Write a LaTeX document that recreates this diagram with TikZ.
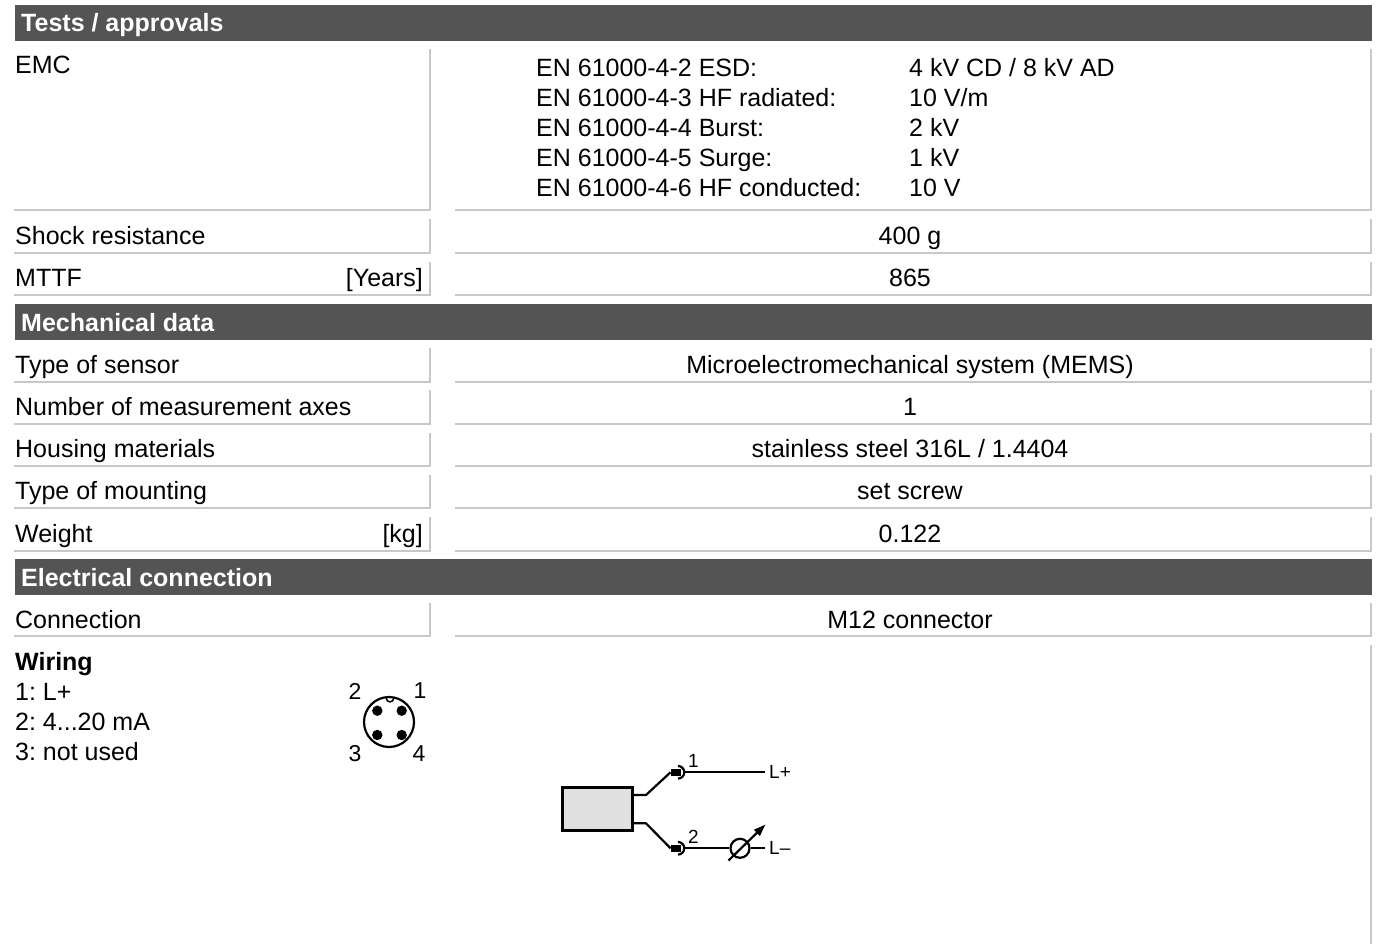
\documentclass[tikz,border=0pt]{standalone}
\usepackage{fontspec}
\setmainfont{Liberation Sans}
\usetikzlibrary{arrows.meta}
\definecolor{hdrgray}{HTML}{545454}
\definecolor{cellgray}{HTML}{C8C8C8}
\definecolor{boxgray}{HTML}{E0E0E0}
\begin{document}
\frenchspacing
\begin{tikzpicture}[x=1pt,y=-1pt,
  txt/.style={font=\fontsize{25}{30}\selectfont, inner sep=0pt, text=black},
  lbl/.style={txt, anchor=base west},
  val/.style={txt, anchor=base},
  unitlbl/.style={txt, anchor=base east},
  hdrbar/.style={fill=hdrgray, draw=none},
  hdrtxt/.style={inner sep=0pt, anchor=base west, text=white, font=\fontsize{25}{30}\selectfont\bfseries},
  cellline/.style={draw=cellgray, line width=2pt},
  wire/.style={line width=2.2pt, line join=round},
  small/.style={inner sep=0pt, font=\fontsize{19}{22}\selectfont},
  pinlbl/.style={inner sep=0pt, font=\fontsize{23}{26}\selectfont},
]
\useasboundingbox (0,0) rectangle (1376,944);

% ---------- header bars ----------
\fill[hdrbar] (15,5) rectangle (1372,41);
\node[hdrtxt] (h1) at (21,32) {Tests / approvals};
\fill[hdrbar] (15,304) rectangle (1372,340);
\node[hdrtxt] (h2) at (21,331) {Mechanical data};
\fill[hdrbar] (15,559) rectangle (1372,595);
\node[hdrtxt] (h3) at (21,586) {Electrical connection};

% ---------- cell borders ----------
\foreach \t/\b in {49/210, 219/252.5, 261.5/295, 348/381.5, 390.3/423.8, 432.6/466, 474.9/508, 517.2/550.7, 603/636}{
  \draw[cellline] (14,\b) -- (429.5,\b) -- (429.5,\t);
  \draw[cellline] (455,\b) -- (1370.7,\b) -- (1370.7,\t);
}
\draw[cellline] (1370.7,645) -- (1370.7,944);

% ---------- Tests / approvals ----------
\node[lbl] (emc) at (15,73.3) {EMC};
\node[lbl] (e1) at (536,76.7) {EN 61000-4-2 ESD:};
\node[lbl] (e2) at (536,106.7) {EN 61000-4-3 HF radiated:};
\node[lbl] (e3) at (536,136.7) {EN 61000-4-4 Burst:};
\node[lbl] (e4) at (536,166.7) {EN 61000-4-5 Surge:};
\node[lbl] (e5) at (536,196.7) {EN 61000-4-6 HF conducted:};
\node[lbl] (v1) at (909,76.7) {4 kV CD / 8 kV AD};
\node[lbl] (v2) at (909,106.7) {10 V/m};
\node[lbl] (v3) at (909,136.7) {2 kV};
\node[lbl] (v4) at (909,166.7) {1 kV};
\node[lbl] (v5) at (909,196.7) {10 V};

\node[lbl] (shock) at (15,244) {Shock resistance};
\node[val] (shockv) at (910,244) {400 g};
\node[lbl] (mttf) at (15,286.3) {MTTF};
\node[unitlbl] (mttfu) at (423,286.3) {[Years]};
\node[val] (mttfv) at (910,286.3) {865};

% ---------- Mechanical data ----------
\node[lbl] (sens) at (15,373) {Type of sensor};
\node[val] (sensv) at (910,373) {Microelectromechanical system (MEMS)};
\node[lbl] (axes) at (15,415.3) {Number of measurement axes};
\node[val] (axesv) at (910,415.3) {1};
\node[lbl] (hous) at (15,457.5) {Housing materials};
\node[val] (housv) at (910,457.5) {stainless steel 316L / 1.4404};
\node[lbl] (mount) at (15,499.8) {Type of mounting};
\node[val] (mountv) at (910,499.8) {set screw};
\node[lbl] (wgt) at (15,542) {Weight};
\node[unitlbl] (wgtu) at (423,542) {[kg]};
\node[val] (wgtv) at (910,542) {0.122};

% ---------- Electrical connection ----------
\node[lbl] (conn) at (15,628) {Connection};
\node[val] (connv) at (910,628) {M12 connector};

\node[lbl, font=\fontsize{25}{30}\selectfont\bfseries] (wir) at (15,670) {Wiring};
\node[lbl] (w1) at (15,700) {1: L+};
\node[lbl] (w2) at (15,730) {2: 4...20 mA};
\node[lbl] (w3) at (15,760) {3: not used};

% connector face
\coordinate (cc) at (389,722);
\draw[line width=2.2pt] (cc) circle[radius=25];
\fill (377.3,710.7) circle[radius=5.2];
\fill (401.7,710.7) circle[radius=5.2];
\fill (377.3,735) circle[radius=5.2];
\fill (401.7,735) circle[radius=5.2];
\draw[line width=1.5pt] (386,697.2) .. controls (386,703.5) and (394,703.5) .. (394,697.2);
\node[pinlbl] (p2) at (355,691) {2};
\node[pinlbl] (p1) at (420,691) {1};
\node[pinlbl] (p3) at (355,753.5) {3};
\node[pinlbl] (p4) at (419,753.5) {4};

% wiring schematic
\node[draw=black, fill=boxgray, line width=3pt, minimum width=70pt, minimum height=43.5pt, inner sep=0pt] (sensor) at (597.5,809.2) {};
\coordinate (u0) at (sensor.east |- 0,795);
\coordinate (u1) at (646,795);
\coordinate (u2) at (670.5,772.3);
\coordinate (d0) at (sensor.east |- 0,823.3);
\coordinate (d1) at (646,823.3);
\coordinate (d2) at (670.5,848.3);
\coordinate (uend) at (765,772.3);
\coordinate (dend) at (765,848.3);

\draw[wire] (u0) -- (u1) -- (u2);
\fill (670.5,769) rectangle (680.5,775.6);
\draw[line width=2.2pt] (678,766) arc[start angle=-90, end angle=90, radius=6.3];
\draw[wire] (684.3,772.3) -- (uend);
\node[small, anchor=west] (lp) at (769,772.3) {L+};
\node[small] (n1) at (693.5,761) {1};

\draw[wire] (d0) -- (d1) -- (d2);
\fill (670.5,845) rectangle (680.5,851.6);
\draw[line width=2.2pt] (678,842) arc[start angle=-90, end angle=90, radius=6.3];
\node[draw=black, line width=2.2pt, circle, minimum size=19pt, inner sep=0pt] (meter) at (740,848.3) {};
\draw[wire] (684.3,848.3) -- (meter.west);
\draw[wire] (meter.east) -- (dend);
\draw[line width=2.2pt, -{Triangle[length=12pt, width=8pt]}] (728.5,860.5) -- (765.5,824.5);
\node[small, anchor=west] (lm) at (769,848.3) {L–};
\node[small] (n2) at (693.5,837) {2};

\end{tikzpicture}
\end{document}
